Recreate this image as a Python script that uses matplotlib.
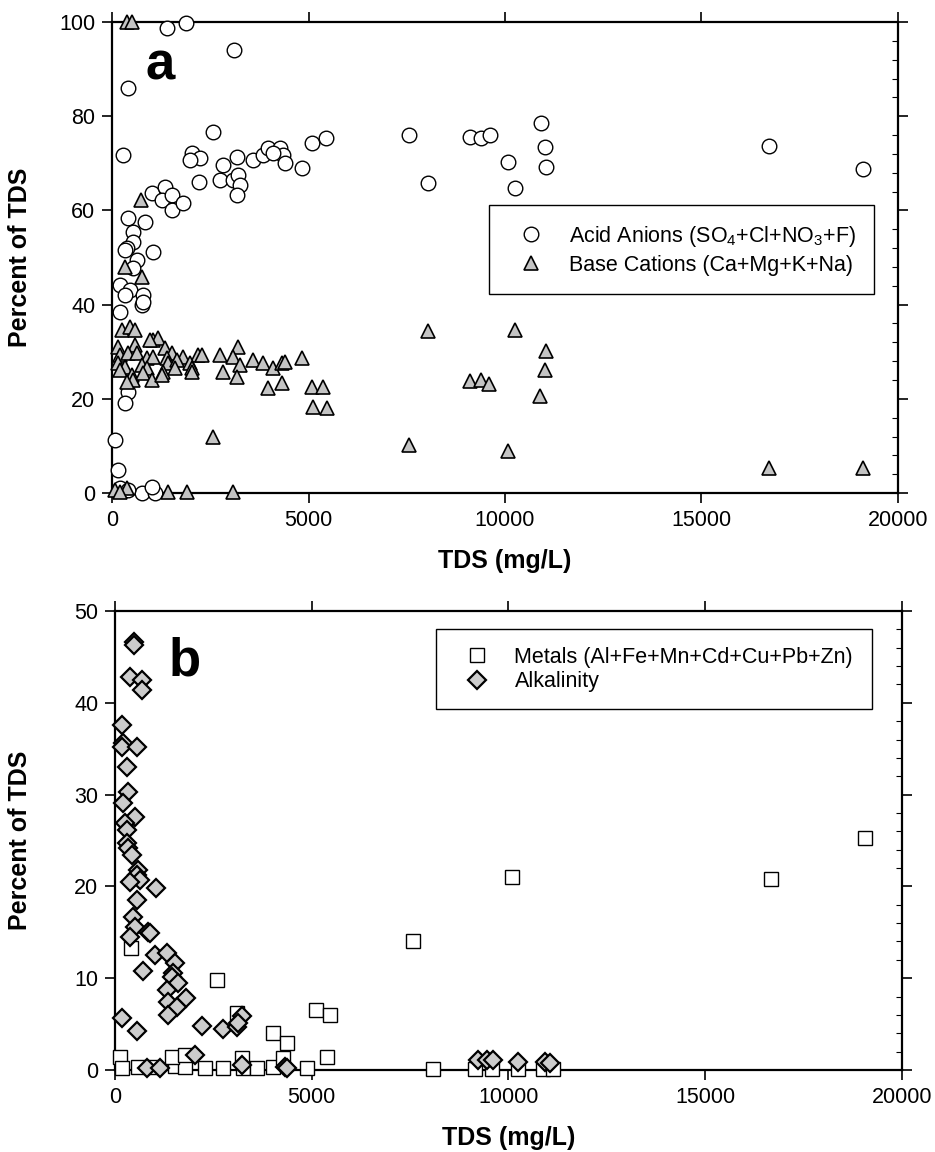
import matplotlib
matplotlib.use("Agg")
import matplotlib.pyplot as plt
from matplotlib.ticker import MultipleLocator, AutoMinorLocator

plt.rcParams['font.family'] = ['Liberation Sans', 'DejaVu Sans']
plt.rcParams['mathtext.default'] = 'regular'

# ---------------- Panel a data ----------------
acid_x = [1400, 1880, 3100, 400, 280, 2570, 5090, 5445, 2035, 2240, 1985, 3180, 3590, 3840,
          3970, 4270, 4350, 4400, 4100, 4830, 2825, 2210, 2750, 3080, 3200, 3260, 3180, 1020,
          1350, 1270, 1530, 1530, 1810, 410, 840, 530, 530, 380, 1040, 330, 630, 530, 200,
          460, 330, 790, 760, 790, 200, 410, 330, 76, 150, 200, 760, 1090, 1020, 410,
          7557, 8040, 9100, 9385, 9620, 10076, 10265, 10910, 11020, 11040, 16720, 19110]
acid_y = [98.7, 99.8, 94.0, 86.0, 71.8, 76.6, 74.3, 75.4, 72.2, 71.1, 70.7, 71.3, 70.7, 71.8,
          73.2, 73.2, 71.8, 70.1, 72.2, 69.0, 69.6, 66.0, 66.5, 66.5, 67.5, 65.4, 63.3, 63.7,
          65.0, 62.2, 63.3, 60.1, 61.6, 58.4, 57.5, 55.4, 53.3, 52.0, 51.2, 51.6, 49.5, 47.8, 44.2,
          43.1, 42.0, 42.0, 39.9, 40.5, 38.4, 21.4, 19.1, 11.2, 4.9, 1.0, 0.0, 0.0, 1.3, 0.6,
          76.1, 65.9, 75.6, 75.4, 76.1, 70.3, 64.7, 78.6, 73.4, 69.2, 73.7, 68.9]

base_x = [380, 510, 740, 330, 760, 250, 460, 590, 1040, 1170, 970, 150, 590, 1350, 1530, 1810,
          2190, 2290, 2750, 3210, 3080, 3260, 3590, 3840, 4100, 4330, 4400, 4830, 200, 410,
          640, 890, 1040, 1400, 1420, 1650, 1985, 2035, 150, 330, 760, 890, 1300, 1600, 2035,
          200, 510, 790, 530, 1020, 1270, 380, 2825, 3180, 3970, 4330, 5090, 5370, 5470, 5110,
          2570, 76, 380, 1420, 1910, 3080, 200,
          7557, 8040, 9100, 9385, 9600, 10076, 10265, 10900, 11010, 11040, 16720, 19110]
base_y = [100, 100, 62.2, 48.0, 45.9, 34.6, 35.2, 34.6, 32.5, 32.9, 32.5, 31.0, 31.4, 30.8, 29.7, 28.9,
          29.3, 29.3, 29.3, 31.0, 28.9, 27.2, 28.2, 27.6, 26.5, 27.6, 27.8, 28.7, 29.3, 29.7,
          29.7, 28.7, 28.9, 28.7, 27.6, 28.2, 27.6, 26.5, 27.6, 26.8, 27.2, 26.5, 25.7, 26.5, 25.7,
          26.1, 25.1, 25.5, 24.0, 24.0, 25.1, 23.6, 25.7, 24.6, 22.3, 23.4, 22.5, 22.5, 18.0, 18.3,
          11.9, 0.6, 1.0, 0.2, 0.2, 0.2, 0.3,
          10.1, 34.5, 23.7, 24.1, 23.2, 9.0, 34.6, 20.7, 26.1, 30.2, 5.3, 5.3]

# ---------------- Panel b data ----------------
metal_x = [400, 2590, 5110, 5460, 4020, 4370, 3100, 7570, 10090, 16670, 19060, 127, 178, 585,
           965, 1525, 1780, 2290, 2745, 3250, 3610, 4020, 4880, 8080, 9150, 9580, 10240, 10880,
           11130, 1450, 1780, 3230, 4270, 5390]
metal_y = [13.3, 9.8, 6.5, 6.0, 4.0, 2.9, 6.2, 14.05, 21.0, 20.8, 25.3, 1.4, 0.2, 0.3,
           0.3, 0.4, 0.3, 0.2, 0.2, 0.2, 0.2, 0.3, 0.2, 0.1, 0.1, 0.1, 0.1, 0.1,
           0.1, 1.4, 1.6, 1.3, 1.3, 1.4]

alk_x = [480, 480, 380, 690, 690, 180, 200, 180, 560, 300, 330, 200, 510, 250, 300, 300, 330,
         430, 585, 560, 635, 380, 1040, 560, 460, 510, 380, 840, 890, 1020, 1320, 1525, 1475,
         1450, 1600, 710, 1320, 1800, 1350, 1575, 1350, 180, 560, 2210, 2745, 3100, 3230, 3130,
         810, 1145, 2030, 3230, 4320, 4370, 9225, 9455, 9605, 10240, 10930, 11050]
alk_y = [46.6, 46.3, 42.8, 42.5, 41.4, 37.6, 35.6, 35.2, 35.2, 33.0, 30.3, 29.1, 27.6, 26.9, 26.1, 24.7, 24.2,
         23.4, 21.8, 21.2, 20.7, 20.5, 19.8, 18.5, 16.7, 15.6, 14.5, 15.0, 14.9, 12.5, 12.7, 11.7, 10.6,
         10.1, 9.5, 10.8, 8.7, 7.8, 7.4, 6.9, 6.0, 5.7, 4.2, 4.8, 4.5, 4.7, 5.9, 5.1,
         0.2, 0.2, 1.6, 0.5, 0.3, 0.2, 1.1, 1.1, 1.1, 0.9, 0.9, 0.8]

x_ticks = [0, 5000, 10000, 15000, 20000]
a_yticks = [0, 20, 40, 60, 80, 100]
b_yticks = [0, 10, 20, 30, 40, 50]

TICK_FS = 15.5
LABEL_FS = 18

fig = plt.figure(figsize=(9.35, 11.52), dpi=100)
ax_a = fig.add_axes([0.1198, 0.5720, 0.8406, 0.4089])
ax_b = fig.add_axes([0.1230, 0.0712, 0.8417, 0.3984])


def style_axes(ax, yticks, ymax):
    ax.set_xlim(0, 20000)
    ax.set_ylim(0, ymax)
    ax.set_xticks(x_ticks)
    ax.set_xticklabels([str(t) for t in x_ticks])
    ax.set_yticks(yticks)
    ax.set_yticklabels([str(t) for t in yticks])
    ax.yaxis.set_minor_locator(AutoMinorLocator(5))
    for s in ax.spines.values():
        s.set_linewidth(1.6)
    ax.tick_params(which='major', direction='out', length=7, width=1.2,
                   top=True, right=True, labelsize=TICK_FS, pad=5)
    ax.tick_params(which='minor', axis='y', direction='in', length=4, width=0.8,
                   left=False, right=True)
    ax.set_xlabel('TDS (mg/L)', fontsize=LABEL_FS, fontweight='bold', labelpad=13)
    ax.set_ylabel('Percent of TDS', fontsize=LABEL_FS, fontweight='bold')


# Panel a
ax_a.plot(acid_x, acid_y, linestyle='none', marker='o', markersize=10.5,
          markerfacecolor='white', markeredgecolor='black', markeredgewidth=1.0,
          clip_on=False, zorder=3, label='Acid Anions (SO$_4$+Cl+NO$_3$+F)')
ax_a.plot(base_x, base_y, linestyle='none', marker='^', markersize=10.5,
          markerfacecolor='#c4c4c4', markeredgecolor='black', markeredgewidth=1.2,
          clip_on=False, zorder=4, label='Base Cations (Ca+Mg+K+Na)')
style_axes(ax_a, a_yticks, 100)
ax_a.yaxis.set_label_coords(-0.102, 0.5)
ax_a.text(840, 87.7, 'a', fontsize=38, fontweight='bold', ha='left', va='baseline')
leg_a = ax_a.legend(loc='upper left', bbox_to_anchor=(0.48, 0.0, 0.489, 0.611),
                    mode='expand', borderaxespad=0, fontsize=TICK_FS, frameon=True,
                    fancybox=False, edgecolor='black', framealpha=1,
                    borderpad=0.85, labelspacing=0.3, handlelength=2.2,
                    handletextpad=0.64, numpoints=1)
leg_a.get_frame().set_linewidth(1.0)

# Panel b
ax_b.plot(metal_x, metal_y, linestyle='none', marker='s', markersize=10,
          markerfacecolor='white', markeredgecolor='black', markeredgewidth=1.0,
          clip_on=False, zorder=3, label='Metals (Al+Fe+Mn+Cd+Cu+Pb+Zn)')
ax_b.plot(alk_x, alk_y, linestyle='none', marker='D', markersize=9.3,
          markerfacecolor='#cccccc', markeredgecolor='black', markeredgewidth=1.6,
          clip_on=False, zorder=4, label='Alkalinity')
style_axes(ax_b, b_yticks, 50)
ax_b.yaxis.set_label_coords(-0.105, 0.5)
ax_b.text(1350, 43, 'b', fontsize=38, fontweight='bold', ha='left', va='baseline')
leg_b = ax_b.legend(loc='upper left', bbox_to_anchor=(0.408, 0.0, 0.554, 0.96),
                    mode='expand', borderaxespad=0, fontsize=TICK_FS, frameon=True,
                    fancybox=False, edgecolor='black', framealpha=1,
                    borderpad=0.8, labelspacing=0.16, handlelength=2.2,
                    handletextpad=0.64, numpoints=1)
leg_b.get_frame().set_linewidth(1.0)

fig.savefig('out.png', dpi=100)
